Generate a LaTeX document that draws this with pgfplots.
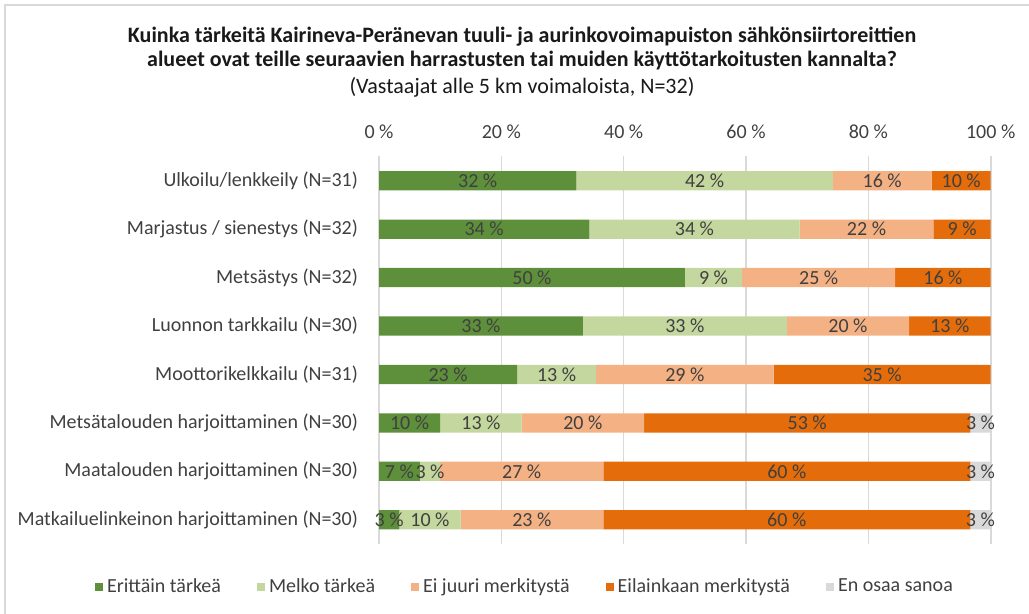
\documentclass[border=0pt]{standalone}
\usepackage{pgfplots}
\pgfplotsset{compat=1.18}
\usepackage{pgfplotstable}
\usepackage{fontspec}
\setmainfont{Carlito}
\definecolor{cA}{HTML}{5E8F3B}
\definecolor{cB}{HTML}{C4D79E}
\definecolor{cC}{HTML}{F4B183}
\definecolor{cD}{HTML}{E46C0A}
\definecolor{cE}{HTML}{D9D9D9}
\definecolor{txt}{HTML}{404040}
\definecolor{gridc}{HTML}{D9D9D9}

% y: 0 = bottom category ... 7 = top category
\pgfplotstableread{
y a b c d e
7 32.26 41.94 16.13 9.68 0
6 34.38 34.38 21.88 9.38 0
5 50.00 9.38 25.00 15.62 0
4 33.33 33.33 20.00 13.34 0
3 22.58 12.90 29.03 35.48 0
2 10.00 13.33 20.00 53.34 3.33
1 6.67 3.33 26.67 60.00 3.33
0 3.33 10.00 23.33 60.00 3.33
}\data
% segment centres (for the value labels)
\pgfplotstablecreatecol[create col/expr={\thisrow{a}/2}]{ca}{\data}
\pgfplotstablecreatecol[create col/expr={\thisrow{a}+\thisrow{b}/2}]{cb}{\data}
\pgfplotstablecreatecol[create col/expr={\thisrow{a}+\thisrow{b}+\thisrow{c}/2}]{cc}{\data}
\pgfplotstablecreatecol[create col/expr={\thisrow{a}+\thisrow{b}+\thisrow{c}+\thisrow{d}/2}]{cd}{\data}
\pgfplotstablecreatecol[create col/expr={\thisrow{a}+\thisrow{b}+\thisrow{c}+\thisrow{d}+\thisrow{e}/2}]{ce}{\data}

\pgfplotsset{
  chartframe/.style={
    at={(189.5pt,-272pt)}, anchor=south west,
    scale only axis, width=305.85pt, height=193.75pt,
    xmin=0, xmax=100, ymin=-0.5, ymax=7.5,
  },
}

\begin{document}
\begin{tikzpicture}
\path[use as bounding box] (0,0) rectangle (514.5pt,-307pt);
\draw[gridc, line width=1pt] (2.5pt,-310pt) -- (2.5pt,-2.5pt) -- (520pt,-2.5pt);
\node[font=\fontsize{11}{13}\selectfont\bfseries, text=black!90] at (261pt,-18.5pt) {Kuinka tärkeitä Kairineva-Peränevan tuuli- ja aurinkovoimapuiston sähkönsiirtoreittien};
\node[font=\fontsize{11}{13}\selectfont\bfseries, text=black!90] at (261pt,-30.5pt) {alueet ovat teille seuraavien harrastusten tai muiden käyttötarkoitusten kannalta?};
\node[font=\fontsize{11}{13}\selectfont, text=black!90] at (261pt,-43.5pt) {(Vastaajat alle 5 km voimaloista, N=32)};
\begin{axis}[
  chartframe,
  xbar stacked, bar width=9.65pt,
  xtick={0,20,40,60,80,100},
  xticklabels={0~\%,20~\%,40~\%,60~\%,80~\%,100~\%},
  xticklabel pos=upper,
  ytick={0,1,2,3,4,5,6,7},
  yticklabels={Matkailuelinkeinon harjoittaminen (N=30),Maatalouden harjoittaminen (N=30),Metsätalouden harjoittaminen (N=30),Moottorikelkkailu (N=31),Luonnon tarkkailu (N=30),Metsästys (N=32),Marjastus / sienestys (N=32),Ulkoilu/lenkkeily (N=31)},
  xmajorgrids, major grid style={gridc, line width=0.8pt},
  axis line style={draw=none}, tick style={draw=none},
  ticklabel style={font=\fontsize{10}{12}\selectfont, text=txt},
  yticklabel style={xshift=-7pt},
  xticklabel style={yshift=5.5pt},
  legend columns=5,
  legend style={at={(0.2403,-0.111)}, anchor=center, draw=none, fill=none, font=\fontsize{10}{12}\selectfont, text=txt, /tikz/every even column/.append style={column sep=16pt}},
  legend image code/.code={\fill[#1] (0pt,-2pt) rectangle (4pt,2pt);},
]
\addplot[fill=cA, draw=none] table[x=a, y=y] {\data};
\addplot[fill=cB, draw=none] table[x=b, y=y] {\data};
\addplot[fill=cC, draw=none] table[x=c, y=y] {\data};
\addplot[fill=cD, draw=none] table[x=d, y=y] {\data};
\addplot[fill=cE, draw=none] table[x=e, y=y] {\data};
\legend{Erittäin tärkeä, Melko tärkeä, Ei juuri merkitystä, Eilainkaan merkitystä, En osaa sanoa}
\end{axis}
% value labels, centred in each segment
\begin{axis}[
  chartframe, hide axis, clip=false,
  point meta=explicit symbolic,
  nodes near coords={\ifdim\pgfplotspointmeta pt>0.5pt\pgfmathprintnumber[fixed,precision=0]{\pgfplotspointmeta}~\%\fi},
  nodes near coords align=center,
  every node near coord/.append style={font=\fontsize{10}{12}\selectfont, text=txt, anchor=center},
  /pgf/number format/assume math mode=true,
]
\addplot[draw=none, mark=none] table[x=ca, y=y, meta=a] {\data};
\addplot[draw=none, mark=none] table[x=cb, y=y, meta=b] {\data};
\addplot[draw=none, mark=none] table[x=cc, y=y, meta=c] {\data};
\addplot[draw=none, mark=none] table[x=cd, y=y, meta=d] {\data};
\addplot[draw=none, mark=none] table[x=ce, y=y, meta=e] {\data};
\end{axis}
\end{tikzpicture}
\end{document}
